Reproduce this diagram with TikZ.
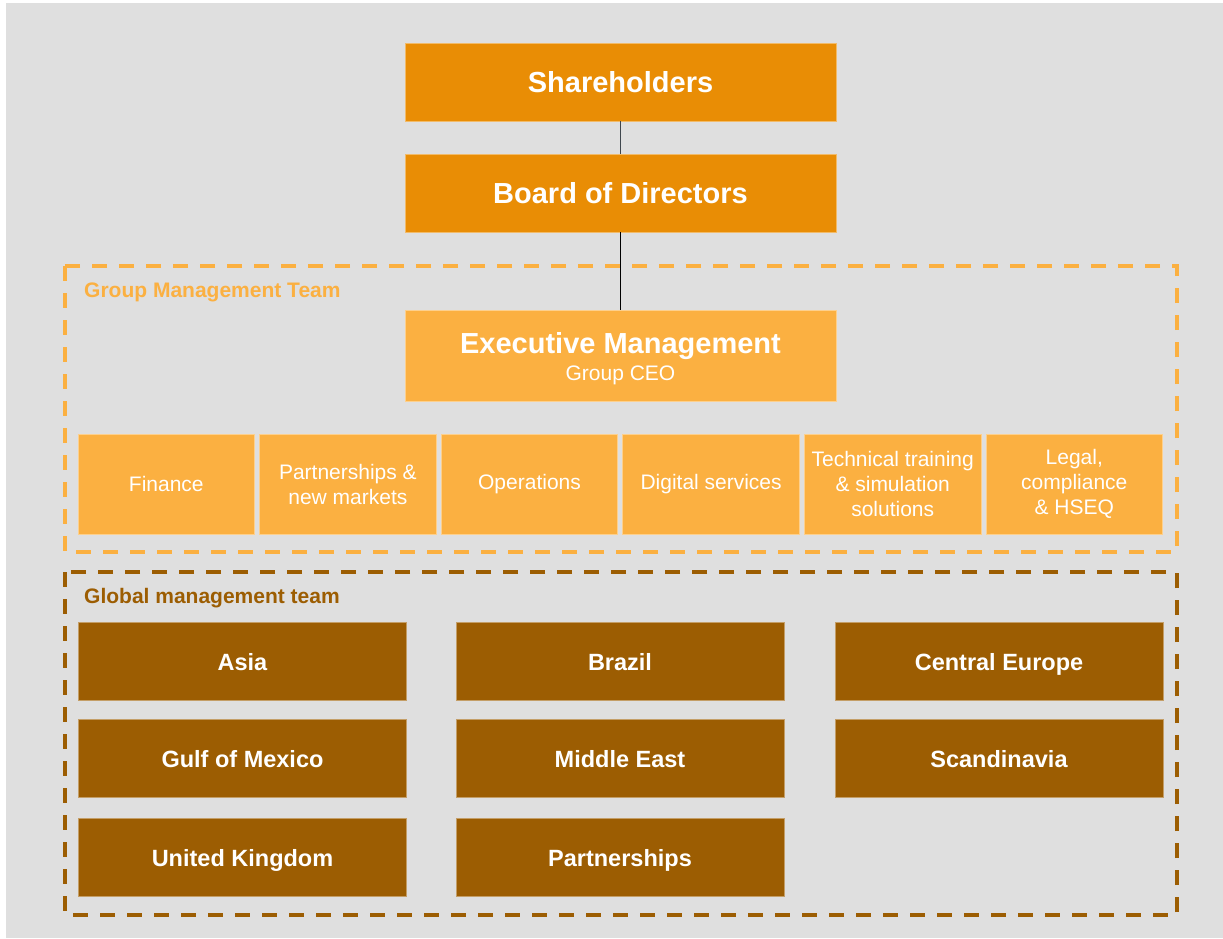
\documentclass[tikz,border=0pt]{standalone}
\usepackage{fontspec}
\setmainfont{Liberation Sans}
\usetikzlibrary{positioning}
\definecolor{oDark}{HTML}{E98D05}
\definecolor{oLight}{HTML}{FBB041}
\definecolor{oBrown}{HTML}{9C5D02}
\definecolor{bgGray}{HTML}{DFDFDF}
\tikzset{
  topbox/.style={fill=oDark, draw=oDark!60!white, line width=0.8pt,
                 minimum width=431pt, minimum height=78pt, inner sep=0pt,
                 text height=21pt, text depth=0pt,
                 text=white, font=\fontsize{29}{29}\selectfont\bfseries},
  execbox/.style={fill=oLight, draw=oLight!60!white, line width=0.8pt,
                 minimum width=431pt, minimum height=91pt, inner sep=0pt,
                 text=white, align=center, font=\fontsize{21}{26}\selectfont},
  deptbox/.style={fill=oLight, draw=oLight!60!white, line width=0.8pt,
                 minimum width=176.5pt, minimum height=100pt, inner sep=0pt,
                 text=white, align=center, font=\fontsize{21}{25}\selectfont},
  regionbox/.style={fill=oBrown, draw=oBrown!60!white, line width=0.8pt,
                 minimum width=328pt, minimum height=78pt, inner sep=0pt,
                 text height=19pt, text depth=0pt,
                 text=white, font=\fontsize{23.5}{23.5}\selectfont\bfseries},
  teamframe/.style={line width=3.5pt, dash pattern=on 15pt off 12pt},
  teamlabel/.style={anchor=base west, inner sep=0pt,
                 font=\fontsize{21}{21}\selectfont\bfseries},
  orgline/.style={line width=1.2pt},
}
\begin{document}
\begin{tikzpicture}[x=1pt, y=-1pt]
    \useasboundingbox (0,0) rectangle (1223,938);
    \fill[bgGray] (6,3) rectangle (1223,938);
    % dashed team frames
    \draw[teamframe, oLight] (65,266) rectangle (1177,552);
    \draw[teamframe, oBrown] (65,572) rectangle (1177,915);
    \node[teamlabel, text=oLight] (gmt) at (84,297) {Group Management Team};
    \node[teamlabel, text=oBrown] (glt) at (84,603) {Global management team};
    % top of the chart
    \node[topbox] (share) at (620.5,82) {Shareholders};
    \node[topbox] (board) at (620.5,193) {Board of Directors};
    \node[execbox, minimum height=91pt] (exec) at (620.5,355.5) {};
    \node[execbox, draw=none, fill=none] (execname) at (620.5,358.5)
      {{\fontsize{29}{29}\selectfont\bfseries Executive Management}\\[1pt]Group CEO};
    \draw[orgline, black!80!cyan] (share) -- (board);
    \draw[orgline, black] (board) -- (exec);
    % group functions
    \node[deptbox] (fin) at (166.3,484) {Finance};
    \node[deptbox] (part) at (347.9,484) {Partnerships \&\\new markets};
    \node[deptbox] (ops) at (529.5,484) {Operations};
    \node[deptbox] (dig) at (711.1,484) {Digital services};
    \node[deptbox] (tech) at (892.7,484) {Technical training\\\& simulation\\solutions};
    \node[deptbox] (legal) at (1074.3,484) {Legal,\\compliance\\\& HSEQ};
    % regions
    \node[regionbox] (asia) at (242.5,661) {Asia};
    \node[regionbox] (bra) at (620,661) {Brazil};
    \node[regionbox] (ceu) at (999,661) {Central Europe};
    \node[regionbox] (gom) at (242.5,758) {Gulf of Mexico};
    \node[regionbox] (mea) at (620,758) {Middle East};
    \node[regionbox] (sca) at (999,758) {Scandinavia};
    \node[regionbox] (uk) at (242.5,857) {United Kingdom};
    \node[regionbox] (prt) at (620,857) {Partnerships};
\end{tikzpicture}
\end{document}
